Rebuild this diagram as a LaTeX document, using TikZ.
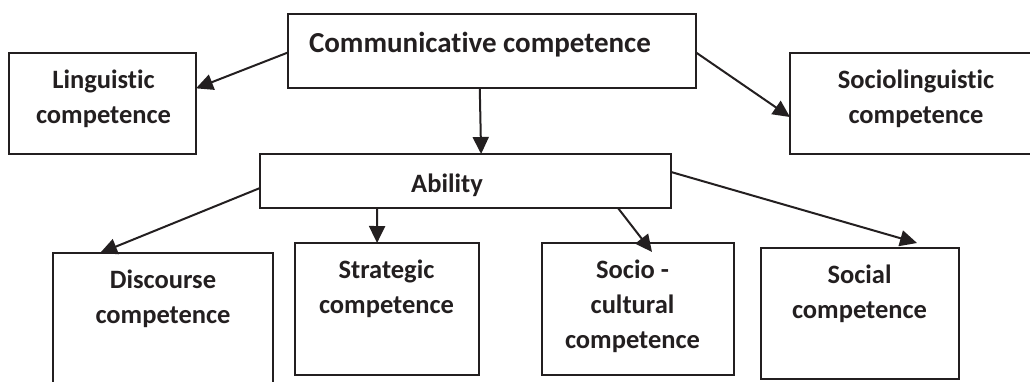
\documentclass[tikz,border=0pt]{standalone}
\usepackage{fontspec}
\setmainfont{Carlito}[Ligatures=NoCommon]
\usetikzlibrary{calc,arrows.meta}
\definecolor{ink}{HTML}{231F20}
\tikzset{
  box/.style={draw=ink, line width=2pt, inner sep=0pt, outer sep=0pt},
  lbl/.style={text=ink, font=\fontsize{26.5}{35}\selectfont\bfseries, align=center, anchor=base, inner sep=0pt},
  arr/.style={draw=ink, line width=2pt, -{Triangle[length=17pt,width=16pt]}}
}
\begin{document}
\begin{tikzpicture}[x=1pt,y=-1pt]
\useasboundingbox (0,0) rectangle (1030,381);
\clip (0,0) rectangle (1030,381);
% boxes
\node[box, minimum width=408pt, minimum height=74pt] (comm) at (492,51) {};
\node[box, minimum width=187pt, minimum height=101pt] (ling) at (102.5,103.5) {};
\node[box, minimum width=250pt, minimum height=101pt] (socio) at (915,103.5) {};
\node[box, minimum width=411pt, minimum height=54pt] (abil) at (465.5,181) {};
\node[box, minimum width=220pt, minimum height=160pt] (disc) at (163,333) {};
\node[box, minimum width=184pt, minimum height=132pt] (strat) at (387,309) {};
\node[box, minimum width=192pt, minimum height=132pt] (sccult) at (638,309) {};
\node[box, minimum width=198pt, minimum height=131pt] (social) at (860,313.5) {};
% texts (anchor base = baseline of last line)
\node[lbl, font=\fontsize{29}{35}\selectfont\bfseries] (tcomm) at (480,52) {Communicative competence};
\node[lbl] (tling) at (103.5,123) {Linguistic\\competence};
\node[lbl] (tsocio) at (916,123) {Sociolinguistic\\competence};
\node[lbl] (tabil) at (447,192) {Ability};
\node[lbl] (tdisc) at (163,323) {Discourse\\competence};
\node[lbl] (tstrat) at (386.5,313) {Strategic\\competence};
\node[lbl] (tsccult) at (632.5,348) {Socio -\\cultural\\competence};
\node[lbl] (tsocial) at (859.5,318) {Social\\competence};
% arrows
\draw[arr] ($(comm.north west)!0.52!(comm.south west)$) -- ($(ling.north east)!0.35!(ling.south east)$);
\draw[arr] ($(comm.south west)!0.470!(comm.south east)$) -- ($(abil.north west)!0.538!(abil.north east)$);
\draw[arr] ($(comm.north east)!0.52!(comm.south east)$) -- ($(socio.north west)!0.634!(socio.south west)$);
\draw[arr] ($(abil.north west)!0.63!(abil.south west)$) -- ($(disc.north west)!0.214!(disc.north east)$);
\draw[arr] ($(abil.south west)!0.285!(abil.south east)$) -- ($(strat.north west)!0.446!(strat.north east)$);
\draw[arr] ($(abil.south west)!0.871!(abil.south east)$) -- ($(sccult.north west)!0.573!(sccult.north east)+(0,9)$);
\draw[arr] ($(abil.north east)!0.333!(abil.south east)$) -- ($(social.north west)!0.788!(social.north east)+(0,-5)$);
\end{tikzpicture}
\end{document}
